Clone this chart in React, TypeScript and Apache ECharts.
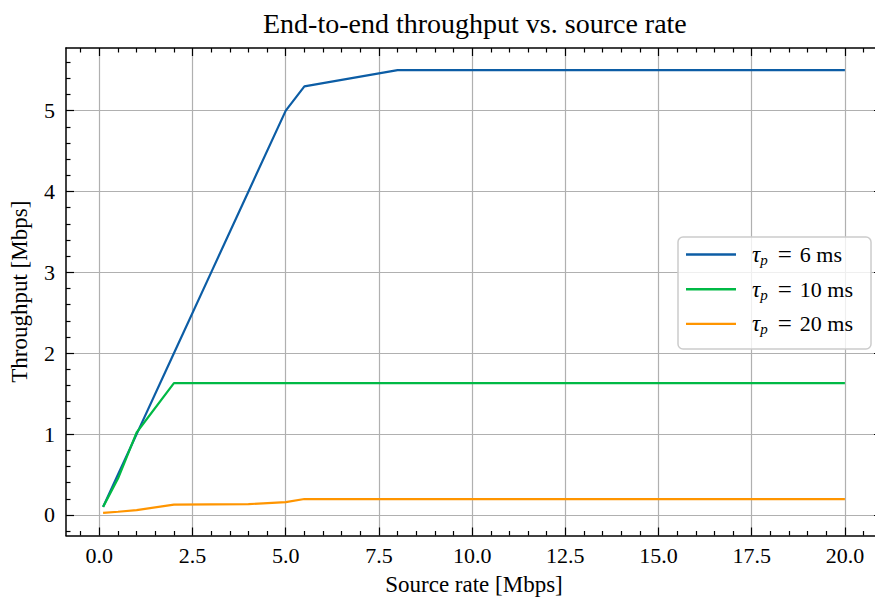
import React, { useEffect, useRef } from "react";
import * as echarts from "echarts";

const FONT = "'Liberation Serif', 'Times New Roman', serif";

const sourceRates = [0.1, 0.5, 1, 2, 3, 4, 5, 5.5, 8, 10, 12, 14, 16, 18, 20];
const throughput6ms = [0.1, 0.5, 1.0, 2.0, 3.0, 4.0, 5.0, 5.3, 5.5, 5.5, 5.5, 5.5, 5.5, 5.5, 5.5];
const throughput10ms = [0.1, 0.45, 1.02, 1.63, 1.63, 1.63, 1.63, 1.63, 1.63, 1.63, 1.63, 1.63, 1.63, 1.63, 1.63];
const throughput20ms = [0.025, 0.04, 0.06, 0.128, 0.131, 0.134, 0.158, 0.197, 0.197, 0.197, 0.197, 0.197, 0.197, 0.197, 0.197];
const seriesDelays = ["6 ms", "10 ms", "20 ms"];
const seriesColors = ["#0C5DA5", "#00B945", "#FF9500"];

const xMajorTicks = [0, 2.5, 5, 7.5, 10, 12.5, 15, 17.5, 20];
const xMinorTicks = [-0.5, 0.5, 1, 1.5, 2, 3, 3.5, 4, 4.5, 5.5, 6, 6.5, 7, 8, 8.5, 9, 9.5, 10.5, 11, 11.5, 12, 13, 13.5, 14, 14.5, 15.5, 16, 16.5, 17, 18, 18.5, 19, 19.5, 20.5];
const yMajorTicks = [0, 1, 2, 3, 4, 5];
const yMinorTicks = [-0.2, 0.2, 0.4, 0.6, 0.8, 1.2, 1.4, 1.6, 1.8, 2.2, 2.4, 2.6, 2.8, 3.2, 3.4, 3.6, 3.8, 4.2, 4.4, 4.6, 4.8, 5.2, 5.4, 5.6];

const X_MIN = -0.895;
const X_MAX = 20.995;
const Y_MIN = -0.254;
const Y_MAX = 5.774;

export default function App() {
  const ref = useRef<HTMLDivElement>(null);

  useEffect(() => {
    if (!ref.current) return;
    const chart = echarts.init(ref.current, null, { renderer: "svg" });

    const lineStyle = { color: "#000", width: 1.5 };
    const makeAxis = (
      kind: "x" | "y",
      position: string,
      ticks: number[],
      major: boolean,
      main: boolean
    ): any => {
      const isX = kind === "x";
      return {
        type: "value",
        position,
        min: isX ? X_MIN : Y_MIN,
        max: isX ? X_MAX : Y_MAX,
        axisLine: { show: major, onZero: false, lineStyle },
        axisTick: {
          show: true,
          inside: true,
          length: major ? 8 : 4.5,
          customValues: ticks,
          lineStyle: { color: "#000", width: 1.2 },
        },
        minorTick: { show: false },
        axisLabel: main
          ? {
              show: true,
              customValues: ticks,
              margin: isX ? 9 : 11,
              fontFamily: FONT,
              fontSize: 22,
              color: "#000",
              formatter: (v: number) => (isX ? v.toFixed(1) : String(Math.round(v))),
            }
          : { show: false },
        splitLine: main
          ? { show: true, lineStyle: { color: "#b0b0b0", width: 1.2 } }
          : { show: false },
        name: main ? (isX ? "Source rate [Mbps]" : "Throughput [Mbps]") : "",
        nameLocation: "middle",
        nameGap: isX ? 37 : 35,
        nameTextStyle: { fontFamily: FONT, fontSize: 23, color: "#000" },
        z: main ? 2 : 3,
      };
    };

    const datasets = [throughput6ms, throughput10ms, throughput20ms];

    chart.setOption({
      animation: false,
      backgroundColor: "#ffffff",
      textStyle: { fontFamily: FONT },
      title: {
        text: "End-to-end throughput vs. source rate",
        left: 258,
        top: 4,
        textStyle: { fontFamily: FONT, fontSize: 28, fontWeight: "normal", color: "#000" },
      },
      grid: {
        left: 66,
        right: -7,
        top: 48,
        bottom: 63.5,
        outerBoundsMode: "none",
        containLabel: false,
      },
      xAxis: [
        makeAxis("x", "bottom", xMajorTicks, true, true),
        makeAxis("x", "bottom", xMinorTicks, false, false),
        makeAxis("x", "top", xMajorTicks, true, false),
        makeAxis("x", "top", xMinorTicks, false, false),
      ],
      yAxis: [
        makeAxis("y", "left", yMajorTicks, true, true),
        makeAxis("y", "left", yMinorTicks, false, false),
        makeAxis("y", "right", yMajorTicks, true, false),
        makeAxis("y", "right", yMinorTicks, false, false),
      ],
      legend: {
        orient: "vertical",
        left: 678,
        top: 237,
        icon: "rect",
        itemWidth: 50,
        itemHeight: 2.4,
        itemGap: 9.2,
        padding: [5, 18, 12, 8],
        backgroundColor: "rgba(255,255,255,0.8)",
        borderColor: "#cccccc",
        borderWidth: 1.5,
        borderRadius: 5,
        data: seriesDelays.map((d) => "τp = " + d),
        formatter: (name: string) => {
          const idx = seriesDelays.findIndex((d) => name === "τp = " + d);
          return "{t|τ}{s|p}{e|=}{n|" + seriesDelays[idx] + "}";
        },
        textStyle: {
          fontFamily: FONT,
          fontSize: 22,
          color: "#000",
          padding: [0, 0, 0, 11],
          rich: {
            t: { fontFamily: FONT, fontSize: 23, fontStyle: "italic", color: "#000", lineHeight: 26, verticalAlign: "middle" },
            s: { fontFamily: FONT, fontSize: 15, fontStyle: "italic", color: "#000", lineHeight: 14, verticalAlign: "bottom" },
            e: { fontFamily: FONT, fontSize: 25, color: "#000", lineHeight: 26, verticalAlign: "middle", padding: [0, 8, 0, 10] },
            n: { fontFamily: FONT, fontSize: 22, color: "#000", lineHeight: 26, verticalAlign: "middle" },
          },
        },
      },
      series: datasets.map((vals, i) => ({
        name: "τp = " + seriesDelays[i],
        type: "line",
        xAxisIndex: 0,
        yAxisIndex: 0,
        symbol: "none",
        showSymbol: false,
        data: sourceRates.map((x, j) => [x, vals[j]]),
        lineStyle: { color: seriesColors[i], width: 2.2 },
        itemStyle: { color: seriesColors[i] },
        z: 5,
      })),
    });

    return () => chart.dispose();
  }, []);

  return (
    <div
      ref={ref}
      style={{ position: "absolute", left: 0, top: 0, width: 875, height: 599 }}
    />
  );
}
